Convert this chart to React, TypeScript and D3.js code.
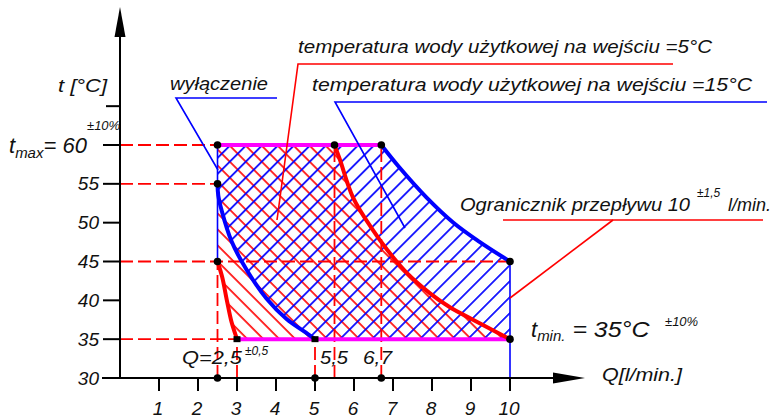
import React from 'react';
import * as d3 from 'd3';

// constants
const width = 772;
const height = 419;
const font = '"Liberation Sans", Arial, sans-serif';

// axis ticks
const tTicks = [30, 35, 40, 45, 50, 55];
const qTicks = [1, 2, 3, 4, 5, 6, 7, 8, 9, 10];

// curves: Q [l/min], t [°C]
const blueLeftQ = [2.5, 2.52, 2.61, 2.86, 3.25, 3.76, 4.27, 4.75, 5.0];
const blueLeftT = [55, 53.5, 51.5, 47.6, 43.9, 40.2, 37.6, 35.9, 35];
const blueRightQ = [6.7, 7.15, 7.85, 8.55, 9.2, 10];
const blueRightT = [60, 57.2, 53.3, 50.0, 47.6, 45];
const redLeftQ = [2.5, 2.62, 2.74, 2.86, 3.0];
const redLeftT = [45, 43, 40, 37.2, 35];
const redRightQ = [5.5, 5.64, 5.97, 6.49, 6.85, 7.36, 7.95, 8.46, 9.05, 10];
const redRightT = [60, 58.1, 53.3, 49, 46.5, 43.5, 40.9, 39.1, 37.5, 35];

// marked points
const dotQ = [2.5, 2.5, 2.5, 5.5, 6.7, 10, 10, 2.5, 5, 6.7];
const dotT = [60, 55, 45, 60, 60, 45, 35, 30, 30, 30];
const squareQ = [3, 5];
const squareT = [35, 35];

// red dashed helper lines
const hDashT = [60, 55, 45, 35];
const hDashQEnd = [2.5, 2.5, 10, 3];
const vDashQ = [2.5, 3, 5, 5.5, 6.7];
const vDashTEnd = [45, 35, 35, 60, 60];

const x = d3.scaleLinear().domain([0, 10]).range([120, 510]);
const y = d3.scaleLinear().domain([30, 60]).range([378, 145]);

const zip = (qs: number[], ts: number[]) => qs.map((q, i) => [q, ts[i]] as [number, number]);
const line = d3.line<[number, number]>()
  .x(d => x(d[0]))
  .y(d => y(d[1]))
  .curve(d3.curveCatmullRom.alpha(0.5));

const blueLeft = zip(blueLeftQ, blueLeftT);
const blueRight = zip(blueRightQ, blueRightT);
const redLeft = zip(redLeftQ, redLeftT);
const redRight = zip(redRightQ, redRightT);

const asL = (p: string) => 'L' + p.slice(1);
const P = (q: number, t: number) => `${x(q)},${y(t)}`;

const blueArea =
  `M${P(2.5, 60)}L${P(2.5, 55)}` + asL(line(blueLeft)!) +
  `L${P(10, 35)}L${P(10, 45)}` + asL(line([...blueRight].reverse())!) + 'Z';
const redArea =
  `M${P(2.5, 60)}L${P(2.5, 45)}` + asL(line(redLeft)!) +
  `L${P(10, 35)}` + asL(line([...redRight].reverse())!) + 'Z';

const txt = { fontFamily: font, fontStyle: 'italic' as const, fill: '#111' };

const App = () => {
  return (
    <svg width={width} height={height} style={{ position: 'absolute', left: 0, top: 0 }}>
      <defs>
        <pattern id="hBlue" width={11.3} height={11.3} patternUnits="userSpaceOnUse" patternTransform="rotate(45)">
          <line x1={5.6} y1={0} x2={5.6} y2={11.3} stroke="#0000ff" strokeWidth={1.7} />
        </pattern>
        <pattern id="hRed" width={11.3} height={11.3} patternUnits="userSpaceOnUse" patternTransform="rotate(-45)">
          <line x1={3} y1={0} x2={3} y2={11.3} stroke="#ff0000" strokeWidth={1.7} />
        </pattern>
      </defs>
      <rect width={width} height={height} fill="#fff" />

      {/* hatched regions */}
      <path d={redArea} fill="url(#hRed)" />
      <path d={blueArea} fill="url(#hBlue)" />

      {/* dashed helper lines */}
      {hDashT.map((t, i) => (
        <line key={'h' + i} x1={x(0)} x2={x(hDashQEnd[i])} y1={y(t)} y2={y(t)}
          stroke="#ff0000" strokeWidth={1.8} strokeDasharray="13,5" />
      ))}
      {vDashQ.map((q, i) => (
        <line key={'v' + i} x1={x(q)} x2={x(q)} y1={y(30)} y2={y(vDashTEnd[i])}
          stroke="#ff0000" strokeWidth={1.8} strokeDasharray="13,5" />
      ))}

      {/* thin blue borders */}
      <line x1={x(2.5)} x2={x(2.5)} y1={y(60)} y2={y(45)} stroke="#0000ff" strokeWidth={1.6} />
      <line x1={x(10)} x2={x(10)} y1={y(45)} y2={y(30)} stroke="#0000ff" strokeWidth={1.6} />

      {/* limits */}
      <line x1={x(2.5)} x2={x(6.7)} y1={y(60)} y2={y(60)} stroke="#ff00ff" strokeWidth={4} />
      <line x1={x(3)} x2={x(10)} y1={y(35)} y2={y(35)} stroke="#ff00ff" strokeWidth={4} />

      {/* curves */}
      <path d={line(blueLeft)!} fill="none" stroke="#0000ff" strokeWidth={4} />
      <path d={line(blueRight)!} fill="none" stroke="#0000ff" strokeWidth={4} />
      <path d={line(redLeft)!} fill="none" stroke="#ff0000" strokeWidth={4} />
      <path d={line(redRight)!} fill="none" stroke="#ff0000" strokeWidth={4} />

      {/* leader lines */}
      <polyline points="218,170 176,98 277,98" fill="none" stroke="#0000ff" strokeWidth={1.6} />
      <polyline points="277,220 298,64 673,64" fill="none" stroke="#ff0000" strokeWidth={1.6} />
      <polyline points="405,228 335,102 767,102" fill="none" stroke="#0000ff" strokeWidth={1.6} />
      <polyline points="503,220 763,220" fill="none" stroke="#ff0000" strokeWidth={1.6} />
      <polyline points="613,220 510,298" fill="none" stroke="#ff0000" strokeWidth={1.6} />

      {/* points */}
      {dotQ.map((q, i) => (
        <circle key={'d' + i} cx={x(q)} cy={y(dotT[i])} r={3.8} fill="#000" />
      ))}
      {squareQ.map((q, i) => (
        <rect key={'s' + i} x={x(q) - 3.5} y={y(squareT[i]) - 3} width={7} height={6} fill="#000" />
      ))}

      {/* axes */}
      <line x1={120} x2={120} y1={y(30)} y2={30} stroke="#000" strokeWidth={2} />
      <polygon points="120,7 114.5,37 125.5,37" fill="#000" />
      <line x1={102} x2={556} y1={y(30)} y2={y(30)} stroke="#000" strokeWidth={2} />
      <polygon points="585,378 553,372.5 553,383.5" fill="#000" />
      {[...tTicks, 60].map(t => (
        <line key={'yt' + t} x1={103} x2={120} y1={y(t)} y2={y(t)} stroke="#000" strokeWidth={2} />
      ))}
      <line x1={106} x2={120} y1={y(65)} y2={y(65)} stroke="#000" strokeWidth={2} />
      {qTicks.map(q => (
        <line key={'xt' + q} x1={x(q)} x2={x(q)} y1={y(30)} y2={y(30) + 13} stroke="#000" strokeWidth={2} />
      ))}

      {/* tick labels */}
      {tTicks.map(t => (
        <text key={'yl' + t} x={99} y={y(t) + 6.5} textAnchor="end" fontSize={19} {...txt}>{t}</text>
      ))}
      {qTicks.map(q => (
        <text key={'xl' + q} x={x(q) - 1} y={415} textAnchor="middle" fontSize={19} {...txt}>{q}</text>
      ))}

      {/* axis titles */}
      <text x={58} y={92} fontSize={19} textLength={49} lengthAdjust="spacingAndGlyphs" {...txt}>t [°C]</text>
      <text x={602} y={381} fontSize={19} textLength={80} lengthAdjust="spacingAndGlyphs" {...txt}>Q[l/min.]</text>

      {/* t max / t min */}
      <text x={9} y={153} fontSize={22} {...txt}>
        t<tspan fontSize={15} dy={5}>max</tspan><tspan dy={-5}>= 60</tspan>
      </text>
      <text x={87} y={130} fontSize={13} {...txt}>±10%</text>
      <text x={531} y={337} fontSize={22} {...txt}>
        t<tspan fontSize={15} dy={4}>min.</tspan><tspan dy={-4} textLength={84} lengthAdjust="spacingAndGlyphs"> = 35°C</tspan>
      </text>
      <text x={665} y={326} fontSize={13} {...txt}>±10%</text>

      {/* Q labels */}
      <text x={182} y={364} fontSize={19} textLength={60} lengthAdjust="spacingAndGlyphs" {...txt}>Q=2,5</text>
      <text x={245} y={355} fontSize={12} {...txt}>±0,5</text>
      <text x={320} y={364} fontSize={19} textLength={28} lengthAdjust="spacingAndGlyphs" {...txt}>5,5</text>
      <text x={363} y={364} fontSize={19} textLength={29} lengthAdjust="spacingAndGlyphs" {...txt}>6,7</text>

      {/* annotations */}
      <text x={170} y={90} fontSize={18} textLength={98} lengthAdjust="spacingAndGlyphs" {...txt}>wyłączenie</text>
      <text x={298} y={53} fontSize={18} textLength={414} lengthAdjust="spacingAndGlyphs" {...txt}>temperatura wody użytkowej na wejściu =5°C</text>
      <text x={312} y={91} fontSize={18} textLength={440} lengthAdjust="spacingAndGlyphs" {...txt}>temperatura wody użytkowej na wejściu =15°C</text>
      <text x={460} y={211} fontSize={18} {...txt}>
        <tspan textLength={230} lengthAdjust="spacingAndGlyphs">Ogranicznik przepływu 10</tspan>
        <tspan x={697} dy={-14} fontSize={12}>±1,5</tspan>
        <tspan x={728} dy={14}>l/min.</tspan>
      </text>
    </svg>
  );
};

export default App;
